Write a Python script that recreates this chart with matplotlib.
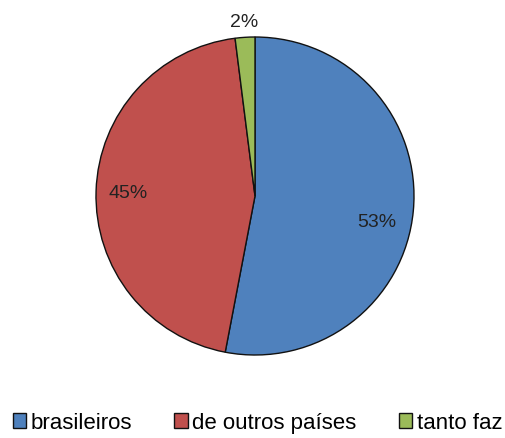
import numpy as np
import matplotlib.pyplot as plt

plt.rcParams['font.family'] = ['Liberation Sans', 'DejaVu Sans']

categorias = ['brasileiros', 'de outros países', 'tanto faz']
valores = [53, 45, 2]
cores = ['#4F81BD', '#C0504D', '#9BBB59']

fig = plt.figure(figsize=(5.05, 4.39), dpi=100)
ax = fig.add_axes([0, 0, 1, 1])
ax.set_xlim(0, 505)
ax.set_ylim(0, 439)
ax.set_aspect('equal')

cx, cy, r = 255, 242, 159
wedges, textos, pcts = ax.pie(valores, colors=cores, startangle=90, counterclock=False,
                              center=(cx, cy), radius=r, autopct='%1.0f%%', pctdistance=0.8,
                              wedgeprops=dict(edgecolor='#111111', linewidth=1.0),
                              textprops=dict(fontsize=14, color='#222222'), frame=True)
ax.axis('off')

# 53% fica um pouco mais abaixo no original
pcts[0].set_position((cx + 0.78 * r * np.cos(np.deg2rad(-12)), cy + 0.78 * r * np.sin(np.deg2rad(-12))))

# rótulo pequeno fica fora da fatia
w = wedges[2]
ang = np.deg2rad((w.theta1 + w.theta2) / 2)
pcts[2].set_position((cx + 1.1 * r * np.cos(ang), cy + 1.1 * r * np.sin(ang)))

fig.legend(wedges, categorias, loc='lower center', bbox_to_anchor=(0.51, -0.035), ncol=3,
           frameon=False, fontsize=16, handlelength=0.6, handleheight=0.6,
           handletextpad=0.2, columnspacing=1.9)

plt.savefig('out.png', dpi=100)
